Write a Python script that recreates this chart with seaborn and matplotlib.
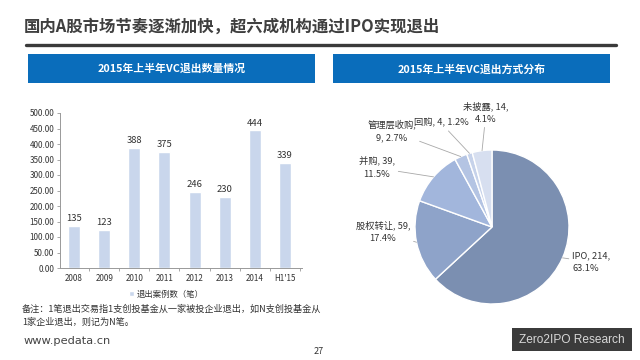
import numpy as np
import matplotlib
matplotlib.use('Agg')
import matplotlib.pyplot as plt
import seaborn as sns
import pandas as pd
from matplotlib.patches import Rectangle
from matplotlib.ticker import FormatStrFormatter, FixedLocator

# data
years = ['2008', '2009', '2010', '2011', '2012', '2013', '2014', "H1'15"]
exits = [135, 123, 388, 375, 246, 230, 444, 339]

methods = ['IPO', '股权转让', '并购', '管理层收购', '回购', '未披露']
method_counts = [214, 59, 39, 9, 4, 14]
method_pcts = [63.1, 17.4, 11.5, 2.7, 1.2, 4.1]

sns.set_style('white')
plt.rcParams['font.family'] = ['Noto Sans CJK SC', 'DejaVu Sans']

fig = plt.figure(figsize=(6.4, 3.6), dpi=100)
W, H = 640, 360


def fx(px):
    return px / W


def fy(py):
    return 1 - py / H


# page title and rule
fig.text(fx(24), fy(27), '国内A股市场节奏逐渐加快，超六成机构通过IPO实现退出',
         fontsize=11.8, fontweight='bold', color='#3f3f3f', va='center', ha='left')
fig.add_artist(plt.Line2D([fx(26), fx(616)], [fy(45), fy(45)], color='#3a3a3a', lw=2.4))

# blue header boxes
header_blue = '#0a6dbb'
for x0, x1, txt in [(28, 315, '2015年上半年VC退出数量情况'), (333, 610, '2015年上半年VC退出方式分布')]:
    fig.add_artist(Rectangle((fx(x0), fy(83)), fx(x1 - x0), (83 - 54) / H,
                             transform=fig.transFigure, color=header_blue, lw=0))
    fig.text(fx((x0 + x1) / 2), fy(69), txt, color='white', fontsize=7.8,
             fontweight='bold', ha='center', va='center')

# bar chart
ax = fig.add_axes([fx(60), fy(268), fx(302 - 60), (268 - 113) / H])
df = pd.DataFrame({'year': years, 'exits': exits})
sns.barplot(data=df, x='year', y='exits', color='#c9d6ec', width=0.4,
            saturation=1, ax=ax, label='退出案例数（笔）')
ax.bar_label(ax.containers[0], padding=2, fontsize=6.8, color='#333333')
ax.set_xlim(-0.47, len(years) - 0.43)
ax.set_ylim(0, 500)
ax.set_yticks(np.arange(0, 501, 50))
ax.yaxis.set_major_formatter(FormatStrFormatter('%.2f'))
ax.xaxis.set_minor_locator(FixedLocator(np.arange(-0.5, len(years), 1.0)))
ax.tick_params(axis='y', labelsize=5.8, length=2, width=0.6, color='#999999',
               labelcolor='#333333', pad=2, left=True)
ax.tick_params(axis='x', which='major', labelsize=5.8, length=0,
               labelcolor='#333333', pad=4)
ax.tick_params(axis='x', which='minor', length=2, width=0.6, color='#999999', bottom=True)
ax.set_xlabel('')
ax.set_ylabel('')
sns.despine(ax=ax)
for s in ['left', 'bottom']:
    ax.spines[s].set_color('#999999')
    ax.spines[s].set_linewidth(0.7)
ax.legend(loc='center', bbox_to_anchor=(fx(166), fy(294)), bbox_transform=fig.transFigure,
          frameon=False, fontsize=6, handlelength=0.6, handleheight=0.6,
          handletextpad=0.3, labelcolor='#333333')

# notes
fig.text(fx(22), fy(309), '备注：1笔退出交易指1支创投基金从一家被投企业退出，如N支创投基金从',
         fontsize=6.6, color='#333333', va='center', ha='left')
fig.text(fx(22), fy(322), '1家企业退出，则记为N笔。',
         fontsize=6.6, color='#333333', va='center', ha='left')
fig.text(fx(24), fy(341), 'www.pedata.cn', fontsize=8.2, color='#444444',
         va='center', ha='left', family=['DejaVu Sans'])
fig.text(fx(319), fy(352), '27', fontsize=6.5, color='#333333', va='center', ha='center')

# footer brand box
fig.add_artist(Rectangle((fx(512), fy(351)), fx(632 - 512), (351 - 328) / H,
                         transform=fig.transFigure, color='#3b3b3b', lw=0))
fig.text(fx(572), fy(340), 'Zero2IPO Research', color='#d8d8d8', fontsize=8.6,
         ha='center', va='center', family=['Liberation Sans'])

# pie chart
R = 77
cx, cy = 492, 227
pax = fig.add_axes([fx(cx - 100), fy(cy + 100), fx(200), 200 / H])
pie_colors = ['#7b8fb1', '#8ea3c9', '#a2b6dc', '#b4c4e3', '#c6d2ea', '#d7dff0']
wedges, _ = pax.pie(method_counts, colors=pie_colors, startangle=90, counterclock=False,
                    radius=1, wedgeprops=dict(edgecolor='white', linewidth=1.0))
pax.set_xlim(-100 / R, 100 / R)
pax.set_ylim(-100 / R, 100 / R)
pax.set_aspect('equal')

label_breaks = [2, 2, 2, 1, 0, 2]  # line break after this many commas
label_pos = [(1.04, -0.455), (-1.416, -0.065), (-1.494, 0.766),
             (-1.30, 1.247), (-0.662, 1.35), (-0.078, 1.48)]
label_ha = ['left', 'center', 'center', 'center', 'center', 'center']
for w, m, c, p, br, pos, ha in zip(wedges, methods, method_counts, method_pcts,
                                   label_breaks, label_pos, label_ha):
    parts = [f'{m},', f'{c},', f'{p}%']
    if br == 0:
        txt = ' '.join(parts)
    else:
        txt = ' '.join(parts[:br]) + '\n' + ' '.join(parts[br:])
    ang = np.deg2rad((w.theta1 + w.theta2) / 2)
    xy = (np.cos(ang), np.sin(ang))
    pax.annotate(txt, xy=xy, xytext=pos, ha=ha, va='center', fontsize=6.7,
                 color='#333333', linespacing=1.5, annotation_clip=False,
                 arrowprops=dict(arrowstyle='-', color='#a8a8a8', lw=0.6,
                                 shrinkA=0, shrinkB=0))

fig.savefig('out.png', dpi=100)
